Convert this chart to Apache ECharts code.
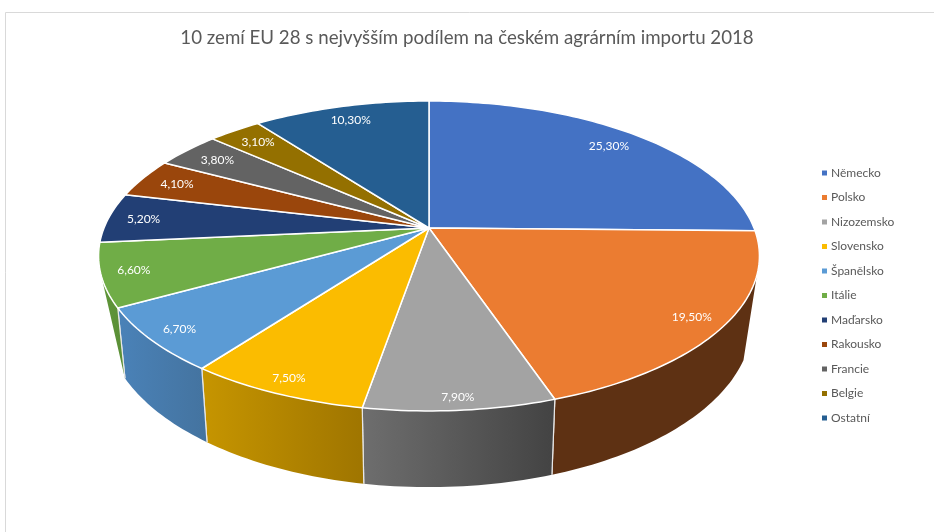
<!DOCTYPE html>
<html>
<head>
<meta charset="utf-8">
<style>html,body{margin:0;padding:0;background:#fff}#c{width:934px;height:532px}</style>
<script src="https://cdn.jsdelivr.net/npm/echarts@6/dist/echarts.min.js"></script>
</head>
<body>
<div id="c"></div>
<script>
const chartTitle = '10 zemí EU 28 s nejvyšším podílem na českém agrárním importu 2018';
const countries = ['Německo','Polsko','Nizozemsko','Slovensko','Španělsko','Itálie','Maďarsko','Rakousko','Francie','Belgie','Ostatní'];
const shares = [25.3,19.5,7.9,7.5,6.7,6.6,5.2,4.1,3.8,3.1,10.3];
const topColors = ['#4472C4','#EB7C31','#A3A3A3','#FBBC00','#5B9BD5','#70AD47','#223F75','#9A460C','#636363','#947000','#255E91'];
const wallStart = ['#2f4f88','#5E3113','#6E6E6E','#C69500','#4A82B8','#5F9639','#1a3058','#6e320a','#444','#6b5200','#1a4368'];
const wallEnd   = ['#2f4f88','#5E3113','#434343','#9F7500','#44739F','#5A8E36','#1a3058','#6e320a','#444','#6b5200','#1a4368'];

// perspective of the pie disc
const P = {cx:429, cy:228, A:325, B:149.9, k:0.1806, botS:0.977, botY:293.4, botV:1.059, ell:{x:428.5,y:256,rx:329.5,ry:155}};
const deg = Math.PI/180;
// silhouette limits of the visible side wall (clockwise from 12 o'clock)
const wallTop = [107.3*deg, 252.7*deg], wallLow = [113*deg, 240.9*deg];
function project(ang, r){ // ang: clockwise from 12 o'clock in radians, r: 0..1
  const X = r*Math.sin(ang), Y = -r*Math.cos(ang), w = 1 - P.k*Y;
  return [P.cx + P.A*X/w, P.cy + P.B*Y/w];
}
function lower(p){ return [P.cx + P.botS*(p[0]-P.cx), P.botY + P.botV*(p[1]-P.cy)]; }
function arc(a0,a1){
  const n = Math.max(2, Math.ceil(Math.abs(a1-a0)/0.02)), out=[];
  for(let j=0;j<=n;j++) out.push(project(a0+(a1-a0)*j/n,1));
  return out;
}
function fits(p,hw,hh,lim){
  const e=P.ell;
  for(const sx of [-1,1]) for(const sy of [-1,1]){
    const dx=(p[0]+sx*hw-e.x)/e.rx, dy=(p[1]+sy*hh-e.y)/e.ry;
    if(dx*dx+dy*dy>lim) return false;
  }
  return true;
}
const total = shares.reduce((a,b)=>a+b,0);
const starts = []; shares.reduce((a,b,i)=>{starts[i]=a;return a+b;},0);
const toAng = v => v/total*Math.PI*2;

const wallItem = (params, api) => {
  const i = api.value(0), a0 = toAng(api.value(1)), a1 = toAng(api.value(1)+api.value(2));
  const t0 = Math.max(a0,wallTop[0]), t1 = Math.min(a1,wallTop[1]);
  if(t1<=t0) return {type:'group',children:[]};
  const l0 = Math.min(Math.max(a0,wallLow[0]),wallLow[1]), l1 = Math.max(Math.min(a1,wallLow[1]),wallLow[0]);
  const t = arc(t0,t1), b = arc(l0,l1).map(lower);
  const kids = [{type:'polygon',shape:{points:t.concat(b.slice().reverse())},
     style:{fill:new echarts.graphic.LinearGradient(0,0,1,0,[{offset:0,color:wallStart[i]},{offset:1,color:wallEnd[i]}]),lineWidth:0}}];
  const edge = a => { const p=project(a,1), q=lower(p);
    kids.push({type:'line',shape:{x1:p[0],y1:p[1],x2:q[0],y2:q[1]},style:{stroke:'#e8e8e8',lineWidth:1.2}}); };
  if(a0>wallLow[0] && a0<wallLow[1]) edge(a0);
  if(a1>wallLow[0] && a1<wallLow[1]) edge(a1);
  return {type:'group',children:kids};
};
const faceItem = (params, api) => {
  const a0 = toAng(api.value(0)), a1 = toAng(api.value(0)+api.value(1));
  const pts = [[P.cx,P.cy]].concat(arc(a0,a1));
  return {type:'polygon',shape:{points:pts},style:{fill:api.visual('color'),stroke:'#fff',lineWidth:1.5,lineJoin:'round'}};
};
const labelItem = (params, api) => {
  const v = api.value(1), mid = toAng(api.value(0)+v/2);
  let r = 1, p = project(mid,r);
  while(r>0.3 && !fits(p,20,7,0.94)){ r-=0.005; p=project(mid,r); }
  return {type:'text',style:{text:v.toFixed(2).replace('.',',')+'%',x:p[0],y:p[1],align:'center',verticalAlign:'middle',fill:'#fff',font:'12px Lato, "Open Sans", sans-serif'}};
};

const series = [{
  type:'custom',coordinateSystem:'none',silent:true,animation:false,z:2,
  data:countries.map((c,i)=>[i,starts[i],shares[i]]),
  renderItem:wallItem
}];
countries.forEach((c,i)=>{
  series.push({type:'custom',name:c,coordinateSystem:'none',silent:true,animation:false,z:3,
    itemStyle:{color:topColors[i]},data:[[starts[i],shares[i]]],renderItem:faceItem});
});
series.push({type:'custom',coordinateSystem:'none',silent:true,animation:false,z:5,
  data:shares.map((s,i)=>[starts[i],s]),renderItem:labelItem});

const chart = echarts.init(document.getElementById('c'),null,{renderer:'canvas'});
chart.setOption({
  animation:false,
  backgroundColor:'#fff',
  title:{text:chartTitle,left:'center',top:28,padding:0,textStyle:{color:'#595959',fontSize:18.7,fontWeight:'normal',fontFamily:'Lato, sans-serif'}},
  legend:{orient:'vertical',left:817,top:162,icon:'rect',itemWidth:5,itemHeight:5,itemGap:12.5,selectedMode:false,data:countries,
    textStyle:{color:'#595959',fontSize:12,fontFamily:'Lato, sans-serif',padding:[0,0,0,-1]}},
  graphic:[{type:'polyline',silent:true,shape:{points:[[5.5,532],[5.5,12.5],[934,12.5]]},style:{stroke:'#d9d9d9',fill:null,lineWidth:1}}],
  series:series
});
</script>
</body>
</html>
